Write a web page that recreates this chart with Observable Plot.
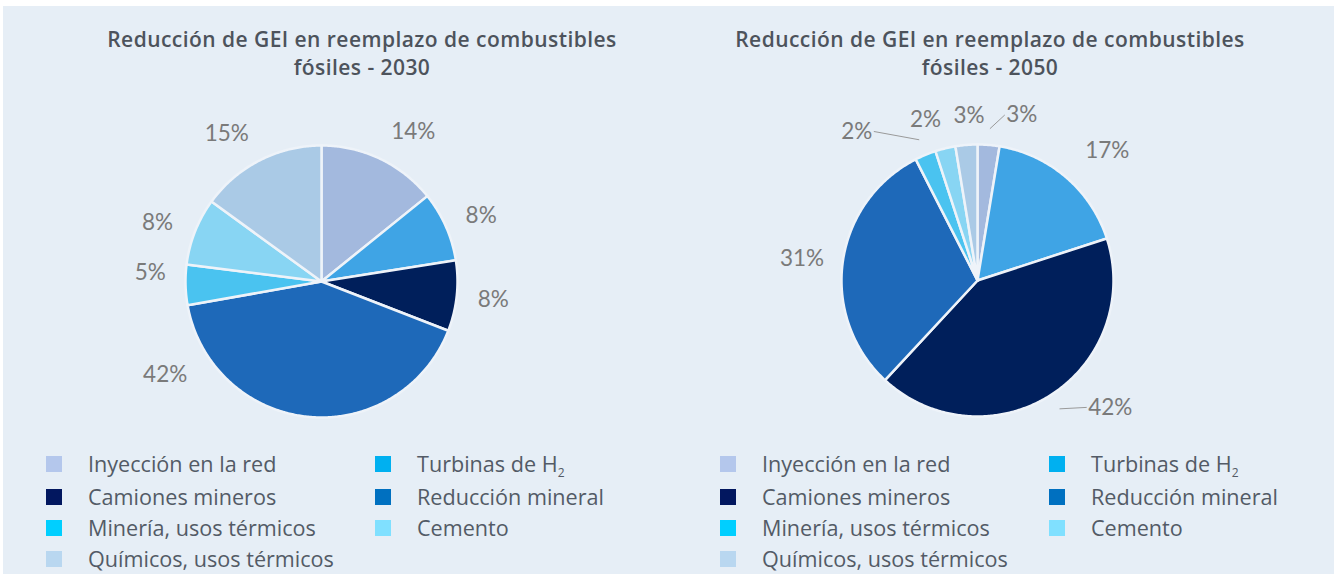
<!DOCTYPE html>
<html>
<head>
<meta charset="utf-8">
<script src="https://cdn.jsdelivr.net/npm/d3@7"></script>
<script src="https://cdn.jsdelivr.net/npm/@observablehq/plot@0.6"></script>
<style>
  html, body { margin: 0; padding: 0; background: #ffffff; }
  #page { position: relative; width: 1336px; height: 574px; overflow: hidden; background: #ffffff; }
  #bg { position: absolute; left: 3px; top: 6px; width: 1331px; height: 568px; background: #e6eef6; }
  .title { position: absolute; width: 640px; text-align: center; font-family: "Open Sans", sans-serif; font-weight: 600; font-size: 21px; letter-spacing: 0.45px; line-height: 28px; color: #4d535c; }
  .chart { position: absolute; }
  .legend-item { position: absolute; font-family: "Open Sans", sans-serif; font-size: 21.6px; color: #535b66; white-space: nowrap; line-height: 24px; }
  .legend-item .sw { position: absolute; left: -42px; top: 4px; width: 16px; height: 16px; }
  .legend-item sub { font-size: 12px; vertical-align: -5px; line-height: 0; }
</style>
</head>
<body>
<div id="page"><div id="bg"></div></div>
<script>
// ---------- data ----------
const categories = ["Inyección en la red", "Turbinas de H2", "Camiones mineros", "Reducción mineral", "Minería, usos térmicos", "Cemento", "Químicos, usos térmicos"];
const values2030 = [14.2, 8.3, 8.4, 41.3, 4.8, 8.0, 15.0];
const labels2030 = ["14%", "8%", "8%", "42%", "5%", "8%", "15%"];
const values2050 = [2.6, 17.4, 41.9, 30.6, 2.5, 2.4, 2.6];
const labels2050 = ["3%", "17%", "42%", "31%", "2%", "2%", "3%"];
const title2030 = ["Reducción de GEI en reemplazo de combustibles", "fósiles - 2030"];
const title2050 = ["Reducción de GEI en reemplazo de combustibles", "fósiles - 2050"];

// ---------- styles ----------
const pieColors = ["#a3b9de", "#3fa4e5", "#001f5b", "#1e69b9", "#4ac3f0", "#88d5f3", "#aacae6"];
const legendColors = ["#b4c7ec", "#00b0f0", "#02175f", "#0070c0", "#00cfff", "#80e0ff", "#b9d7f0"];

// ---------- layout (label placement: [angle offset deg, radius factor]) ----------
const R = 136, W = 620, H = 380;
const panels = [
  { title: title2030, values: values2030, labels: labels2030, cx: 321, cy: 281, titleX: 362, legendX: 88,
    nudge: [[6, 1.29], [1.5, 1.27], [0, 1.27], [53.5, 1.34], [4.4, 1.26], [-2, 1.28], [-5.7, 1.29]],
    leader: [false, false, false, false, false, false, false] },
  { title: title2050, values: values2050, labels: labels2050, cx: 977, cy: 280, titleX: 990, legendX: 762,
    nudge: [[10.3, 1.26], [4.3, 1.35], [-13.7, 1.35], [-0.9, 1.30], [-16.5, 1.41], [-4.3, 1.24], [1.7, 1.21]],
    leader: [true, false, true, false, true, false, false] }
];

const page = document.getElementById("page");

function pieChart(p) {
  const arcs = d3.pie().sort(null).value(d => d)(p.values);
  const pts = [];
  arcs.forEach((a, i) => {
    pts.push({ cat: categories[i], x: 0, y: 0 });
    const n = Math.max(2, Math.ceil((a.endAngle - a.startAngle) / 0.01));
    for (let k = 0; k <= n; k++) {
      const t = a.startAngle + (a.endAngle - a.startAngle) * k / n;
      pts.push({ cat: categories[i], x: Math.sin(t), y: Math.cos(t) });
    }
  });
  const labs = arcs.map((a, i) => {
    const mid = (a.startAngle + a.endAngle) / 2;
    const m = mid + p.nudge[i][0] * Math.PI / 180;
    const rf = p.nudge[i][1];
    return { text: p.labels[i], x: rf * Math.sin(m), y: rf * Math.cos(m), mid, leader: p.leader[i] };
  });
  const leaders = labs.filter(d => d.leader).map(d => {
    const sx = 1.12 * Math.sin(d.mid), sy = 1.12 * Math.cos(d.mid);
    const half = (d.text.length * 6.5 + 4) / R;
    const dir = d.x > sx ? -1 : 1;
    return { x1: sx, y1: sy, x2: d.x + dir * half, y2: d.y };
  });
  return Plot.plot({
    width: W, height: H, margin: 0,
    x: { domain: [-W / 2 / R, W / 2 / R], axis: null },
    y: { domain: [-H / 2 / R, H / 2 / R], axis: null },
    color: { domain: categories, range: pieColors },
    style: { background: "transparent", overflow: "visible" },
    marks: [
      Plot.line(pts, { x: "x", y: "y", z: "cat", fill: "cat", stroke: "#eef3f9", strokeWidth: 2.5, curve: "linear-closed", strokeLinejoin: "round" }),
      Plot.link(leaders, { x1: "x1", y1: "y1", x2: "x2", y2: "y2", stroke: "#9a9a9a", strokeWidth: 1 }),
      Plot.text(labs, { x: "x", y: "y", text: "text", fontSize: 22.5, fontFamily: "Lato, 'Liberation Sans', sans-serif", fontWeight: 400, fill: "#7a7a7a", textAnchor: "middle" })
    ]
  });
}

panels.forEach(p => {
  const t = document.createElement("div");
  t.className = "title";
  t.style.left = (p.titleX - 320) + "px";
  t.style.top = "25px";
  t.innerHTML = p.title.join("<br>");
  page.appendChild(t);

  const svg = pieChart(p);
  const wrap = document.createElement("div");
  wrap.className = "chart";
  wrap.style.left = (p.cx - W / 2) + "px";
  wrap.style.top = (p.cy - H / 2) + "px";
  wrap.appendChild(svg);
  page.appendChild(wrap);

  const rowY = [452, 485, 516, 547];
  categories.forEach((c, i) => {
    const col = i % 2, row = Math.floor(i / 2);
    const item = document.createElement("div");
    item.className = "legend-item";
    item.style.left = (p.legendX + col * 329) + "px";
    item.style.top = rowY[row] + "px";
    const sw = document.createElement("span");
    sw.className = "sw";
    sw.style.background = legendColors[i];
    item.appendChild(sw);
    const label = document.createElement("span");
    if (c === "Turbinas de H2") label.innerHTML = "Turbinas de H<sub>2</sub>";
    else label.textContent = c;
    item.appendChild(label);
    page.appendChild(item);
  });
});
</script>
</body>
</html>
